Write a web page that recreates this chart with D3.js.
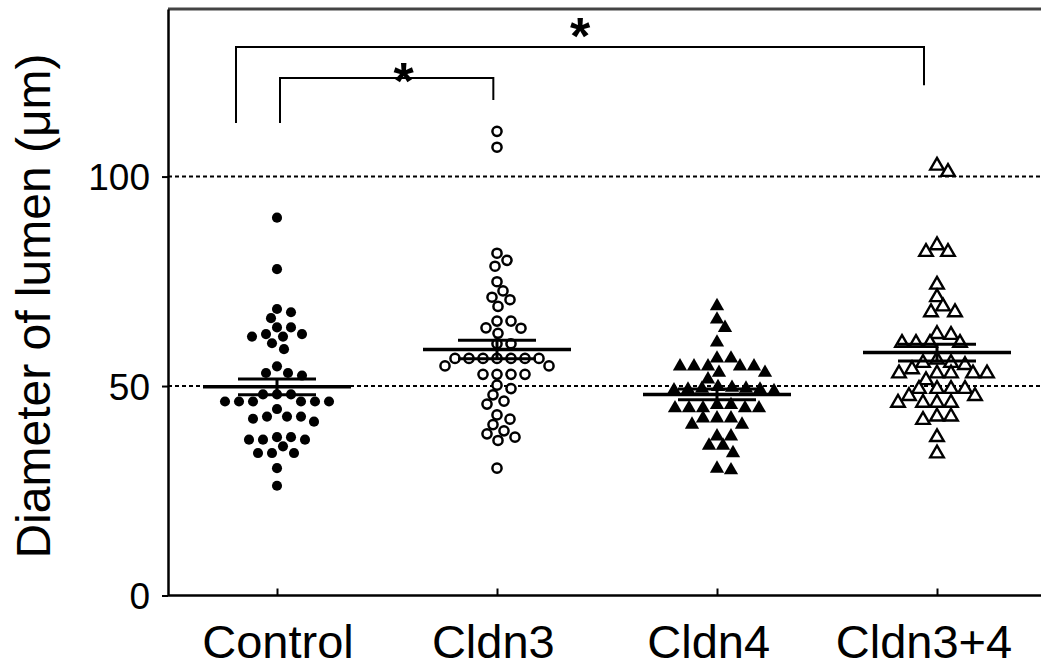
<!DOCTYPE html>
<html>
<head>
<meta charset="utf-8">
<script src="https://cdn.jsdelivr.net/npm/d3@7/dist/d3.min.js"></script>
<style>
    body { margin: 0; background: #fff; }
    svg text { font-family: "Liberation Sans", Arial, sans-serif; fill: #000; }
</style>
</head>
<body>
<svg id="chart" width="1041" height="670"></svg>
<script>
    var groups = ["Control", "Cldn3", "Cldn4", "Cldn3+4"];

    var control = [90.2, 77.9, 68.4, 67.6, 66.2, 64.0, 64.0, 62.4, 62.4, 61.8, 61.8, 60.2, 58.8,
        54.7, 53.1, 52.5, 53.1, 48.0, 48.0, 48.0, 46.3, 46.3, 46.3, 46.3, 46.3, 46.3, 44.5,
        42.7, 42.7, 42.7, 42.2, 41.5, 37.8, 37.8, 37.2, 37.2, 37.2, 35.6, 34.0, 34.0, 34.0, 30.4, 26.2];
    var cldn3 = [110.8, 107.0, 81.7, 80.0, 78.6, 74.9, 72.7, 71.2, 70.6, 69.0, 65.5, 65.5, 63.9,
        63.8, 62.6, 60.1, 60.1, 56.6, 56.6, 56.6, 56.6, 56.6, 56.6, 56.6, 54.8, 54.8, 52.8, 52.8,
        52.8, 52.8, 50.2, 49.4, 47.9, 46.4, 45.7, 43.1, 42.1, 40.8, 39.3, 38.6, 37.8, 37.0, 30.4];
    var cldn4 = [69.1, 65.9, 63.9, 60.4, 56.6, 56.6, 54.7, 54.7, 54.7, 54.7, 54.7, 53.2, 53.2,
        51.6, 49.8, 49.6, 49.4, 49.4, 49.2, 49.2, 49.0, 48.8, 45.5, 45.5, 44.7, 44.7, 44.7, 44.7,
        44.7, 42.3, 42.3, 42.3, 40.8, 40.8, 38.0, 38.0, 35.8, 35.8, 34.0, 30.3, 29.9];
    var cldn34 = [102.6, 101.1, 83.6, 82.0, 82.0, 74.2, 71.2, 69.0, 67.6, 67.6, 62.4, 62.2, 60.3,
        60.3, 60.3, 60.3, 56.3, 55.5, 55.5, 55.0, 54.0, 53.0, 53.0, 53.0, 53.0, 53.0, 51.4, 49.3,
        49.3, 49.3, 49.3, 47.6, 47.6, 46.0, 46.0, 46.0, 46.0, 42.7, 42.7, 41.9, 37.8, 33.9];

    var series = [control, cldn3, cldn4, cldn34];
    var means = [49.8, 58.7, 48.0, 58.0];
    var sems = [1.9, 2.2, 1.3, 2.0];

    var yTicks = [0, 50, 100];
    var refLines = [50, 100];

    // significance brackets (values in axis units)
    var brackets = [
        { from: "Control", to: "Cldn3+4", top: 130.9, left: 112.8, right: 121.8, starAt: 0.5, starY: 136.4 },
        { from: "Control", to: "Cldn3", top: 123.5, left: 112.8, right: 118.3, starAt: 0.58, starY: 125.7 }
    ];

    var svg = d3.select("#chart"),
        plot = { left: 168, right: 1041, top: 9, bottom: 595.5 };

    var y = d3.scaleLinear().domain([0, 140]).range([plot.bottom, plot.top]);
    var x = d3.scalePoint().domain(groups).range([277, 937]);
    var xLabel = d3.scalePoint().domain(groups).range([278, 924]);

    // dashed reference lines
    svg.append("g").selectAll("line")
        .data(refLines)
        .join("line")
        .attr("x1", plot.left).attr("x2", plot.right)
        .attr("y1", function(d) { return y(d); })
        .attr("y2", function(d) { return y(d); })
        .attr("stroke", "#000")
        .attr("stroke-width", 2)
        .attr("stroke-dasharray", "4,3");

    // top frame line
    svg.append("line")
        .attr("x1", plot.left).attr("x2", plot.right)
        .attr("y1", plot.top).attr("y2", plot.top)
        .attr("stroke", "#444").attr("stroke-width", 3);

    // bottom axis line + inward ticks
    svg.append("line")
        .attr("x1", plot.left).attr("x2", plot.right)
        .attr("y1", plot.bottom).attr("y2", plot.bottom)
        .attr("stroke", "#000").attr("stroke-width", 2.5);

    var xAxis = svg.append("g")
        .attr("transform", "translate(0," + plot.bottom + ")")
        .call(d3.axisBottom(x).tickSize(-7).tickSizeOuter(0).tickFormat(""));
    xAxis.select(".domain").remove();
    xAxis.selectAll(".tick line").attr("stroke-width", 2);

    svg.append("g").selectAll("text")
        .data(groups)
        .join("text")
        .attr("x", function(d) { return xLabel(d); })
        .attr("y", 658)
        .attr("text-anchor", "middle")
        .style("font-size", "47px")
        .text(function(d) { return d; });

    // left axis
    var yAxis = svg.append("g")
        .attr("transform", "translate(" + plot.left + ",0)")
        .call(d3.axisLeft(y).tickValues(yTicks).tickSize(6).tickSizeOuter(0).tickPadding(12));
    yAxis.select(".domain").attr("stroke-width", 2.5);
    yAxis.selectAll(".tick line").attr("stroke-width", 2);
    yAxis.selectAll(".tick text")
        .style("font-size", "37px")
        .attr("dy", "0.36em")
        .attr("fill", "#111");

    svg.append("text")
        .attr("transform", "translate(50,306) rotate(-90)")
        .attr("text-anchor", "middle")
        .style("font-size", "48px")
        .text("Diameter of lumen (\u03bcm)");

    // beeswarm: nearest free horizontal slot, elliptical collision
    function swarm(values) {
        var placed = [];
        var order = d3.range(values.length).sort(function(a, b) { return values[b] - values[a]; });
        order.forEach(function(i) {
            var py = y(values[i]);
            for (var k = 0; k < 400; k++) {
                var dx = (k % 2 ? 1 : -1) * Math.ceil(k / 2);
                var hit = placed.some(function(p) {
                    var ex = (p.dx - dx) / 14, ey = (p.py - py) / 10;
                    return ex * ex + ey * ey < 1;
                });
                if (!hit) { placed.push({ v: values[i], dx: dx, py: py }); break; }
            }
        });
        return placed;
    }

    var markers = [
        { type: d3.symbolCircle, size: 80, fill: "#000", stroke: "none", sw: 0 },
        { type: d3.symbolCircle, size: 66, fill: "#fff", stroke: "#000", sw: 2.5 },
        { type: d3.symbolTriangle, size: 88, fill: "#000", stroke: "none", sw: 0 },
        { type: d3.symbolTriangle, size: 80, fill: "#fff", stroke: "#000", sw: 2.4 }
    ];

    groups.forEach(function(gname, gi) {
        var m = markers[gi];
        var pts = swarm(series[gi]);
        var g = svg.append("g");

        g.selectAll("path")
            .data(pts)
            .join("path")
            .attr("transform", function(d) { return "translate(" + (x(gname) + d.dx) + "," + y(d.v) + ")"; })
            .attr("d", d3.symbol().type(m.type).size(m.size))
            .attr("fill", m.fill)
            .attr("stroke", m.stroke)
            .attr("stroke-width", m.sw);

        var cx = x(gname), mu = means[gi], se = sems[gi];
        g.append("line")
            .attr("x1", cx - 74).attr("x2", cx + 74)
            .attr("y1", y(mu)).attr("y2", y(mu))
            .attr("stroke", "#000").attr("stroke-width", 3.5);
        [mu - se, mu + se].forEach(function(v) {
            g.append("line")
                .attr("x1", cx - 39).attr("x2", cx + 39)
                .attr("y1", y(v)).attr("y2", y(v))
                .attr("stroke", "#000").attr("stroke-width", 3);
        });
        g.append("line")
            .attr("x1", cx).attr("x2", cx)
            .attr("y1", y(mu - se)).attr("y2", y(mu + se))
            .attr("stroke", "#000").attr("stroke-width", 3);
    });

    // brackets with asterisks
    brackets.forEach(function(b, i) {
        var x1 = xLabel(b.from) - (i === 0 ? 42 : -2), x2 = xLabel(b.to);
        svg.append("path")
            .attr("d", "M" + x1 + "," + y(b.left) + "V" + y(b.top) + "H" + x2 + "V" + y(b.right))
            .attr("fill", "none")
            .attr("stroke", "#000")
            .attr("stroke-width", 2);
        svg.append("text")
            .attr("x", x1 + (x2 - x1) * b.starAt)
            .attr("y", y(b.starY) + 30)
            .attr("text-anchor", "middle")
            .style("font-size", "52px")
            .style("font-weight", "bold")
            .text("*");
    });
</script>
</body>
</html>
